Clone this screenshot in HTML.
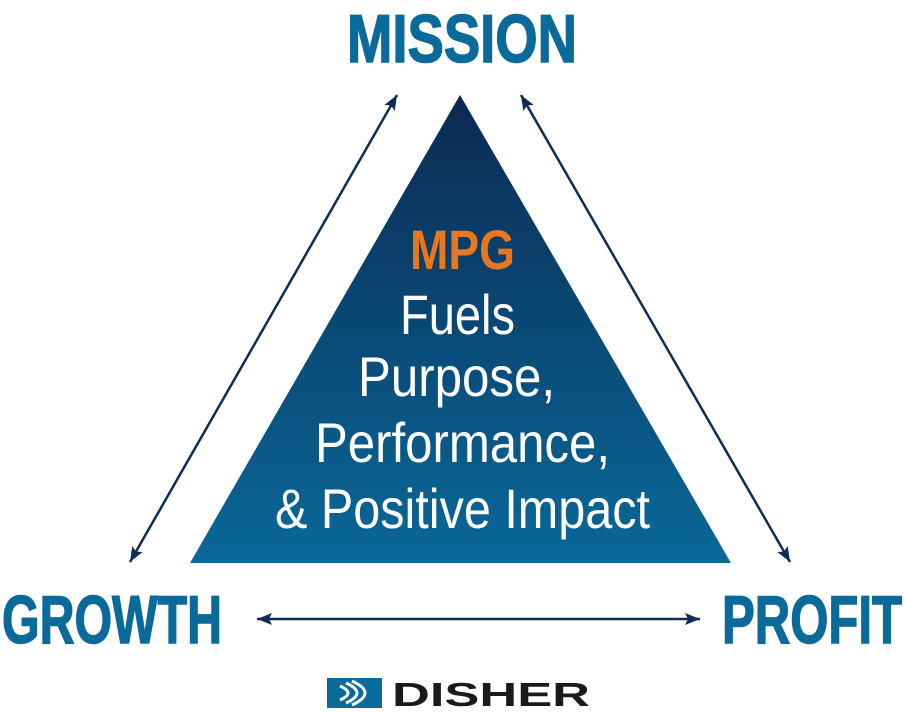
<!DOCTYPE html>
<html><head><style>body{margin:0;background:#fff}svg{display:block}</style></head><body>
<svg width="904" height="713" viewBox="0 0 904 713" xmlns="http://www.w3.org/2000/svg">
<defs>
<linearGradient id="g" x1="0" y1="0" x2="0" y2="1">
<stop offset="0" stop-color="#0b2a52"/><stop offset="1" stop-color="#0a6898"/>
</linearGradient>
<marker id="a" viewBox="0 0 10 8" refX="10" refY="4" markerWidth="16" markerHeight="12" orient="auto-start-reverse" markerUnits="userSpaceOnUse"><path d="M0,0 L10,4 L0,8 L2,4 z" fill="#0c2d55"/></marker>
</defs>
<polygon points="460,95 731,563 190,563" fill="url(#g)"/>
<g stroke="#0c2d55" stroke-width="2.5" fill="none">
<line x1="397" y1="95" x2="130" y2="562" marker-start="url(#a)" marker-end="url(#a)"/>
<line x1="521" y1="95" x2="790" y2="562" marker-start="url(#a)" marker-end="url(#a)"/>
<line x1="257" y1="619" x2="700" y2="619" marker-start="url(#a)" marker-end="url(#a)"/>
</g>
<g font-family="Liberation Sans, sans-serif" font-weight="bold" fill="#0a6a9a" font-size="68" stroke="#0a6a9a" stroke-width="1.5">
<text x="347" y="62" textLength="230" lengthAdjust="spacingAndGlyphs">MISSION</text>
<text x="2" y="643" textLength="220" lengthAdjust="spacingAndGlyphs">GROWTH</text>
<text x="722" y="643" textLength="180" lengthAdjust="spacingAndGlyphs">PROFIT</text>
</g>
<g font-family="Liberation Sans, sans-serif" font-size="56" fill="#fff">
<text x="410" y="269" fill="#e87722" font-weight="bold" textLength="105" lengthAdjust="spacingAndGlyphs">MPG</text>
<text x="400" y="334" textLength="115" lengthAdjust="spacingAndGlyphs">Fuels</text>
<text x="358" y="396" textLength="197" lengthAdjust="spacingAndGlyphs">Purpose,</text>
<text x="315" y="462" textLength="295" lengthAdjust="spacingAndGlyphs">Performance,</text>
<text x="275" y="528" textLength="375" lengthAdjust="spacingAndGlyphs">&amp; Positive Impact</text>
</g>
<rect x="327" y="678" width="55" height="30" fill="#0a6a9a"/>
<g fill="none" stroke="#fff" stroke-width="3">
<path d="M340,686 q16,7 0,14"/><path d="M346,683 q22,10 0,20"/><path d="M352,681 q26,12 0,24"/>
</g>
<text x="392" y="706" font-family="Liberation Sans, sans-serif" font-weight="bold" font-size="33" fill="#1a1a1a" textLength="198" lengthAdjust="spacingAndGlyphs">DISHER</text>
</svg>
</body></html>
